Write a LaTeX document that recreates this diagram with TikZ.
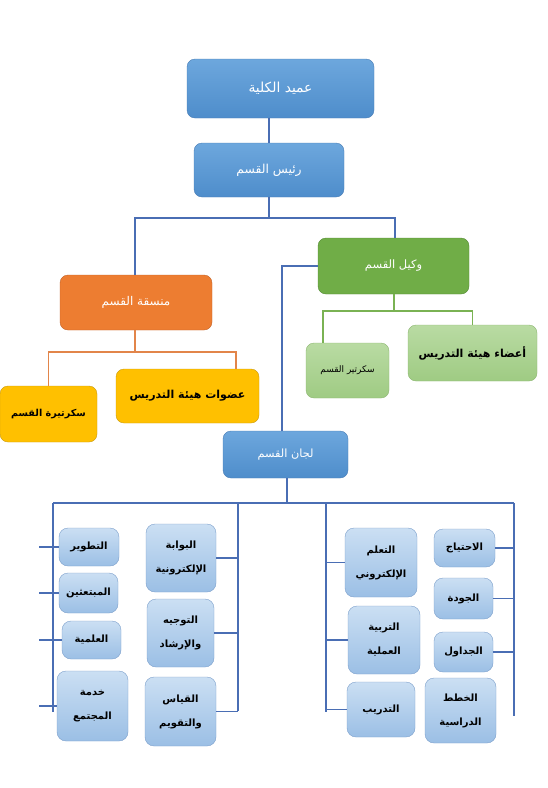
\documentclass[tikz,border=0pt]{standalone}
\usepackage{fontspec}
\newfontfamily\arabicfont[Script=Arabic]{DejaVu Sans}
\TeXXeTstate=1
\newcommand{\rl}[1]{\beginR#1\endR}
\definecolor{bluetop}{HTML}{6DA7DD}
\definecolor{bluebot}{HTML}{4E8DCB}
\definecolor{blueedge}{HTML}{4A7DB5}
\definecolor{bluewire}{HTML}{4A6EB4}
\definecolor{orangefill}{HTML}{ED7D31}
\definecolor{orangeedge}{HTML}{C2632A}
\definecolor{orangewire}{HTML}{E2854A}
\definecolor{greenfill}{HTML}{70AD47}
\definecolor{greenedge}{HTML}{548A35}
\definecolor{greenwire}{HTML}{7AB253}
\definecolor{yellowfill}{HTML}{FFC000}
\definecolor{yellowedge}{HTML}{C99A10}
\definecolor{ltgreentop}{HTML}{B9DBA3}
\definecolor{ltgreenbot}{HTML}{9FCB83}
\definecolor{ltgreenedge}{HTML}{8DB672}
\definecolor{cmtetop}{HTML}{CBDFF3}
\definecolor{cmtebot}{HTML}{9BBFE5}
\definecolor{cmteedge}{HTML}{7C9FCB}
\begin{document}
\begin{tikzpicture}[x=1pt, y=-1pt,
			box/.style={rounded corners=8pt, inner sep=2pt, align=center, font=\arabicfont\fontsize{11.5}{14}\selectfont},
			bluebox/.style={box, draw=blueedge, top color=bluetop, bottom color=bluebot, text=white},
			orangebox/.style={box, draw=orangeedge, fill=orangefill, text=white},
			greenbox/.style={box, draw=greenedge, fill=greenfill, text=white},
			yellowbox/.style={box, draw=yellowedge, fill=yellowfill, text=black, font=\arabicfont\bfseries\fontsize{11}{14}\selectfont},
			ltgreenbox/.style={box, draw=ltgreenedge, top color=ltgreentop, bottom color=ltgreenbot, text=black},
			cmtebox/.style={box, rounded corners=9pt, draw=cmteedge, top color=cmtetop, bottom color=cmtebot, text=black, font=\arabicfont\bfseries\fontsize{10}{24}\selectfont},
			bluelink/.style={draw=bluewire, line width=1.6pt},
			orangelink/.style={draw=orangewire, line width=1.6pt},
			greenlink/.style={draw=greenwire, line width=1.6pt}
			]
			\useasboundingbox (0,0) rectangle (548,788);
			% top levels
			\node[bluebox, minimum width=187, minimum height=59, font=\arabicfont\fontsize{13.8}{16}\selectfont] (dean) at (280.5,88.5) {\rl{عميد الكلية}};
			\node[bluebox, minimum width=150, minimum height=54, font=\arabicfont\fontsize{12.3}{15}\selectfont] (head) at (269,170) {\rl{رئيس القسم}};
			\node[orangebox, minimum width=152, minimum height=55, font=\arabicfont\fontsize{12}{15}\selectfont] (coord) at (136,302.5) {\rl{منسقة القسم}};
			\node[greenbox, minimum width=151, minimum height=56] (deputy) at (393.5,266) {\rl{وكيل القسم}};
			\node[yellowbox, minimum width=97, minimum height=56, font=\arabicfont\bfseries\fontsize{9.6}{12}\selectfont] (secf) at (48.5,414) {\rl{سكرتيرة القسم}};
			\node[yellowbox, minimum width=143, minimum height=54] (stafff) at (187.5,396) {\rl{عضوات هيئة التدريس}};
			\node[ltgreenbox, minimum width=83, minimum height=55, font=\arabicfont\fontsize{9}{12}\selectfont] (secm) at (347.5,370.5) {\rl{سكرتير القسم}};
			\node[ltgreenbox, minimum width=129, minimum height=56, font=\arabicfont\bfseries\fontsize{11}{14}\selectfont] (staffm) at (472.5,353) {\rl{أعضاء هيئة التدريس}};
			\node[bluebox, minimum width=125, minimum height=47, font=\arabicfont\fontsize{11.3}{13}\selectfont] (cmte) at (285.5,454.5) {\rl{لجان القسم}};
			% committees
			\node[cmtebox, minimum width=60, minimum height=38] (tatwir) at (89,547) {\rl{التطوير}};
			\node[cmtebox, minimum width=59, minimum height=40] (mubtaath) at (88.5,593) {\rl{المبتعثين}};
			\node[cmtebox, minimum width=59, minimum height=38] (ilmiya) at (91.5,640) {\rl{العلمية}};
			\node[cmtebox, minimum width=71, minimum height=70] (khidma) at (92.5,706) {\rl{خدمة}\\\rl{المجتمع}};
			\node[cmtebox, minimum width=70, minimum height=68] (bawaba) at (181,558) {\rl{البوابة}\\\rl{الإلكترونية}};
			\node[cmtebox, minimum width=67, minimum height=68] (tawjih) at (180.5,633) {\rl{التوجيه}\\\rl{والإرشاد}};
			\node[cmtebox, minimum width=71, minimum height=69] (qiyas) at (180.5,711.5) {\rl{القياس}\\\rl{والتقويم}};
			\node[cmtebox, minimum width=72, minimum height=69] (talim) at (381,562.5) {\rl{التعلم}\\\rl{الإلكتروني}};
			\node[cmtebox, minimum width=72, minimum height=68] (tarbiya) at (384,640) {\rl{التربية}\\\rl{العملية}};
			\node[cmtebox, minimum width=68, minimum height=55] (tadrib) at (381,709.5) {\rl{التدريب}};
			\node[cmtebox, minimum width=61, minimum height=38] (ihtiyaj) at (464.5,548) {\rl{الاحتياج}};
			\node[cmtebox, minimum width=59, minimum height=41] (jawda) at (463.5,598.5) {\rl{الجودة}};
			\node[cmtebox, minimum width=59, minimum height=40] (jadawil) at (463.5,652) {\rl{الجداول}};
			\node[cmtebox, minimum width=71, minimum height=65] (khitat) at (460.5,710.5) {\rl{الخطط}\\\rl{الدراسية}};
			% joints
			\coordinate (hbar) at (269,218);
			\coordinate (obar) at (135,352);
			\coordinate (gbar) at (394,311);
			\coordinate (cbar) at (287,503);
			\coordinate (lrail) at (53,503);
			\coordinate (mlrail) at (238,503);
			\coordinate (mrrail) at (326,503);
			\coordinate (rrail) at (514,503);
			% links
			\draw[bluelink] (head.north) -- (head.north |- dean.south);
			\draw[bluelink] (head.south) -- (hbar);
			\draw[bluelink] ([xshift=-1]coord.north) |- (hbar) -| ([xshift=1.5]deputy.north);
			\draw[bluelink] (deputy.west) -| ([xshift=-3.5]cmte.north);
			\draw[orangelink] (coord.south -| obar) -- (obar);
			\draw[orangelink] (secf.north) |- (obar) -| ([xshift=48.5]stafff.north);
			\draw[greenlink] (deputy.south -| gbar) -- (gbar);
			\draw[greenlink] ([xshift=-24.5]secm.north) |- (gbar) -| (staffm.north);
			\draw[bluelink] (cmte.south -| cbar) -- (cbar);
			\draw[bluelink] (lrail) -- (rrail);
			\draw[bluelink] (lrail) -- ++(0,209);
			\draw[bluelink] (mlrail) -- ++(0,208);
			\draw[bluelink] (mrrail) -- ++(0,209);
			\draw[bluelink] (rrail) -- ++(0,213);
			\foreach \c in {tatwir, mubtaath, ilmiya, khidma}
				\draw[bluelink] (\c.west) -- ([xshift=-14]\c.west -| lrail);
			\foreach \c in {bawaba, tawjih, qiyas}
				\draw[bluelink] (\c.east) -- (\c.east -| mlrail);
			\foreach \c in {talim, tarbiya, tadrib}
				\draw[bluelink] (\c.west) -- (\c.west -| mrrail);
			\foreach \c in {ihtiyaj, jawda, jadawil}
				\draw[bluelink] (\c.east) -- (\c.east -| rrail);
		\end{tikzpicture}
\end{document}
